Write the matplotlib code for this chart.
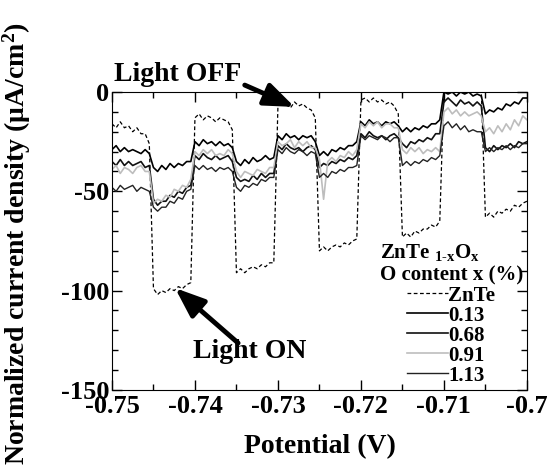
import numpy as np
import matplotlib
matplotlib.use('Agg')
import matplotlib.pyplot as plt
from matplotlib.ticker import MultipleLocator

plt.rcParams['font.family'] = ['Liberation Serif', 'DejaVu Serif']
plt.rcParams['font.weight'] = 'bold'
plt.rcParams['axes.unicode_minus'] = False
plt.rcParams['mathtext.fontset'] = 'custom'
plt.rcParams['mathtext.rm'] = 'Liberation Serif:bold'
plt.rcParams['mathtext.it'] = 'Liberation Serif:bold'
plt.rcParams['mathtext.bf'] = 'Liberation Serif:bold'

# potential sampling, 0.5 mV steps
potential = np.linspace(-0.75, -0.70, 101)

# light chopped every 5 mV (uA/cm2)
znte = [
    -16, -18, -15, -18, -17, -20, -18, -21, -21, -26,
    -99, -102, -100, -101, -99, -100, -98, -99, -97, -96,
    -13, -11, -14, -12, -13, -15, -13, -14, -15, -19,
    -91, -89, -91, -89, -88, -89, -87, -88, -86, -86,
    -7, -4, -6, -8, -5, -7, -6, -8, -9, -13,
    -80, -78, -80, -78, -77, -78, -76, -77, -75, -74,
    -4, -3, -5, -3, -5, -4, -6, -5, -7, -11,
    -73, -71, -73, -70, -71, -69, -69, -67, -68, -65,
    2, 2, 2, 2, 2, 2, 2, 2, 2, 1,
    -63, -61, -63, -60, -61, -59, -60, -57, -58, -56, -55,
]
x013 = [
    -29, -27, -30, -28, -30, -29, -30, -31, -29, -31,
    -38, -40, -37, -39, -36, -38, -36, -37, -35, -35,
    -25, -27, -24, -26, -25, -27, -25, -27, -26, -28,
    -35, -37, -34, -36, -33, -35, -34, -32, -34, -33,
    -22, -24, -21, -23, -22, -24, -22, -23, -22, -25,
    -32, -30, -32, -29, -30, -28, -29, -27, -27, -25,
    -15, -17, -14, -16, -15, -17, -15, -16, -15, -17,
    -20, -18, -20, -18, -19, -17, -18, -16, -16, -14,
    0, -1, 0, -2, 0, -1, 0, -2, -1, -2,
    -11, -9, -10, -8, -9, -6, -7, -5, -6, -3, -3,
]
x068 = [
    -35, -37, -34, -37, -35, -37, -36, -35, -38, -37,
    -54, -57, -55, -55, -52, -53, -50, -51, -48, -47,
    -32, -34, -31, -33, -34, -32, -34, -33, -32, -35,
    -43, -45, -44, -45, -42, -44, -41, -43, -41, -41,
    -27, -29, -26, -28, -29, -28, -30, -28, -27, -29,
    -38, -36, -37, -35, -36, -34, -35, -33, -34, -32,
    -21, -23, -20, -22, -23, -22, -24, -22, -21, -23,
    -26, -28, -25, -26, -24, -25, -23, -24, -21, -21,
    -5, -3, -5, -7, -4, -6, -5, -7, -5, -7,
    -28, -30, -27, -29, -27, -28, -26, -28, -25, -26, -25,
]
x091 = [
    -39, -37, -41, -38, -39, -41, -38, -37, -40, -40,
    -56, -54, -55, -52, -53, -49, -50, -47, -48, -44,
    -30, -32, -29, -31, -29, -32, -31, -32, -29, -31,
    -40, -43, -40, -41, -42, -39, -40, -41, -38, -38,
    -25, -27, -26, -24, -28, -25, -27, -25, -28, -28,
    -34, -54, -35, -33, -35, -32, -33, -30, -32, -29,
    -16, -18, -15, -17, -15, -18, -16, -16, -18, -18,
    -29, -31, -28, -30, -28, -31, -29, -30, -28, -30,
    -10, -8, -11, -9, -12, -10, -12, -11, -10, -12,
    -20, -18, -21, -17, -20, -16, -19, -14, -17, -12, -14,
]
x113 = [
    -48, -50, -47, -49, -48, -47, -50, -48, -49, -50,
    -58, -60, -58, -58, -55, -56, -53, -54, -50, -49,
    -37, -39, -37, -39, -38, -40, -38, -39, -38, -40,
    -48, -50, -47, -48, -46, -47, -44, -45, -43, -43,
    -29, -31, -28, -30, -31, -29, -30, -32, -30, -31,
    -43, -41, -43, -40, -41, -39, -40, -38, -38, -37,
    -22, -24, -22, -23, -24, -22, -23, -25, -23, -23,
    -37, -35, -37, -35, -36, -34, -35, -33, -34, -32,
    -17, -15, -18, -16, -19, -17, -20, -19, -20, -20,
    -30, -28, -30, -28, -29, -27, -29, -27, -28, -26, -26,
]

xticks = [-0.75, -0.74, -0.73, -0.72, -0.71, -0.70]
xticklabels = ['-0.75', '-0.74', '-0.73', '-0.72', '-0.71', '-0.7']
yticks = [0, -50, -100, -150]

fig = plt.figure(figsize=(5.57, 4.72), dpi=100)
ax = fig.add_axes([0.201, 0.174, 0.745, 0.631])

ax.plot(potential, znte, color='black', lw=0.9, ls=(0, (3, 2)), label='ZnTe')
ax.plot(potential, x013, color='black', lw=1.2, label='0.13')
ax.plot(potential, x068, color='#111111', lw=1.2, label='0.68')
ax.plot(potential, x091, color='#bdbdbd', lw=1.2, label='0.91')
ax.plot(potential, x113, color='#222222', lw=1.0, label='1.13')

ax.set_xlim(-0.75, -0.70)
ax.set_ylim(-150, 0)
ax.set_xticks(xticks)
ax.set_xticklabels(xticklabels)
ax.set_yticks(yticks)
ax.xaxis.set_minor_locator(MultipleLocator(0.005))
ax.yaxis.set_minor_locator(MultipleLocator(10))
ax.tick_params(which='both', direction='in', top=True, right=True, width=1)
ax.tick_params(which='major', length=7, labelsize=19)
ax.tick_params(axis='x', which='major', pad=4)
ax.tick_params(axis='y', which='major', pad=2)
ax.tick_params(which='minor', length=4)

ax.set_xlabel('Potential (V)', fontsize=20, fontweight='bold', labelpad=11)
ax.set_ylabel('Normalized current density (\u03bcA/cm$^2$)', fontsize=20,
              fontweight='bold')
ax.yaxis.set_label_coords(-0.19, 0.49)

arrow = dict(arrowstyle='-|>,head_length=0.9,head_width=0.35', color='black',
             lw=3.5, mutation_scale=20, shrinkA=0, shrinkB=0)
ax.text(-0.7421, 8.6, 'Light OFF', fontsize=20, fontweight='bold',
        ha='center', va='center', clip_on=False)
ax.annotate('', xy=(-0.7280, -7.5), xytext=(-0.7340, 3.5),
            annotation_clip=False, arrowprops=arrow)
ax.text(-0.7334, -130.9, 'Light ON', fontsize=20, fontweight='bold',
        ha='center', va='center')
ax.annotate('', xy=(-0.7424, -98.7), xytext=(-0.7348, -126.4),
            arrowprops=arrow)

leg = ax.legend(loc='lower right', bbox_to_anchor=(1.0, 0.0), frameon=False,
                title='ZnTe $_{1\\text{-}x}$O$_x$\nO content x (%)',
                title_fontproperties={'weight': 'bold', 'size': 15},
                prop={'weight': 'bold', 'size': 15},
                handlelength=2.0, handletextpad=0.0, labelspacing=0.0,
                borderpad=0.1, borderaxespad=0.1)

fig.savefig('out.png', dpi=100)
